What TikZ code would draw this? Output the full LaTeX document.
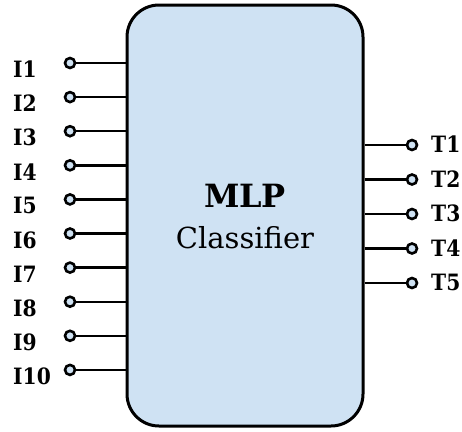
\documentclass[tikz,border=0pt]{standalone}
\usepackage{fontspec}
\setmainfont{DejaVu Serif}
\newfontfamily\lblfont{DejaVu Serif Condensed}
\definecolor{boxblue}{HTML}{CFE2F3}
\begin{document}
\begin{tikzpicture}[x=1pt,y=-1pt,
  pin/.style={circle,draw,line width=2.6pt,fill=boxblue,minimum size=10pt,inner sep=0pt},
  wire/.style={line width=2.4pt},
  lbl/.style={font=\lblfont\bfseries\fontsize{22.5}{22.5}\selectfont,inner sep=0pt}]
\useasboundingbox (0,0) rectangle (462,431);
\node[draw, line width=3pt, fill=boxblue, rounded corners=32pt,
      minimum width=236pt, minimum height=421pt, inner sep=0pt] (box) at (245,215.5) {};
\foreach \i in {1,...,10} {
  \pgfmathsetmacro\yy{63+(\i-1)*34.1}
  \node[pin] (in\i) at (70,\yy) {};
  \draw[wire] (in\i) -- (in\i -| box.west);
  \node[lbl, anchor=west] (li\i) at (13,\yy+6.5) {I\i};
}
\foreach \i in {1,...,5} {
  \pgfmathsetmacro\yy{145+(\i-1)*34.5}
  \node[pin] (out\i) at (412,\yy) {};
  \draw[wire] (out\i -| box.east) -- (out\i);
  \node[lbl, anchor=west] (lo\i) at (431,\yy-0.5) {T\i};
}
\node (mlp) at (245,196) {\fontsize{32}{32}\selectfont\bfseries MLP};
\node (cls) at (245,238) {\fontsize{29}{29}\selectfont Classifier};
\end{tikzpicture}
\end{document}
